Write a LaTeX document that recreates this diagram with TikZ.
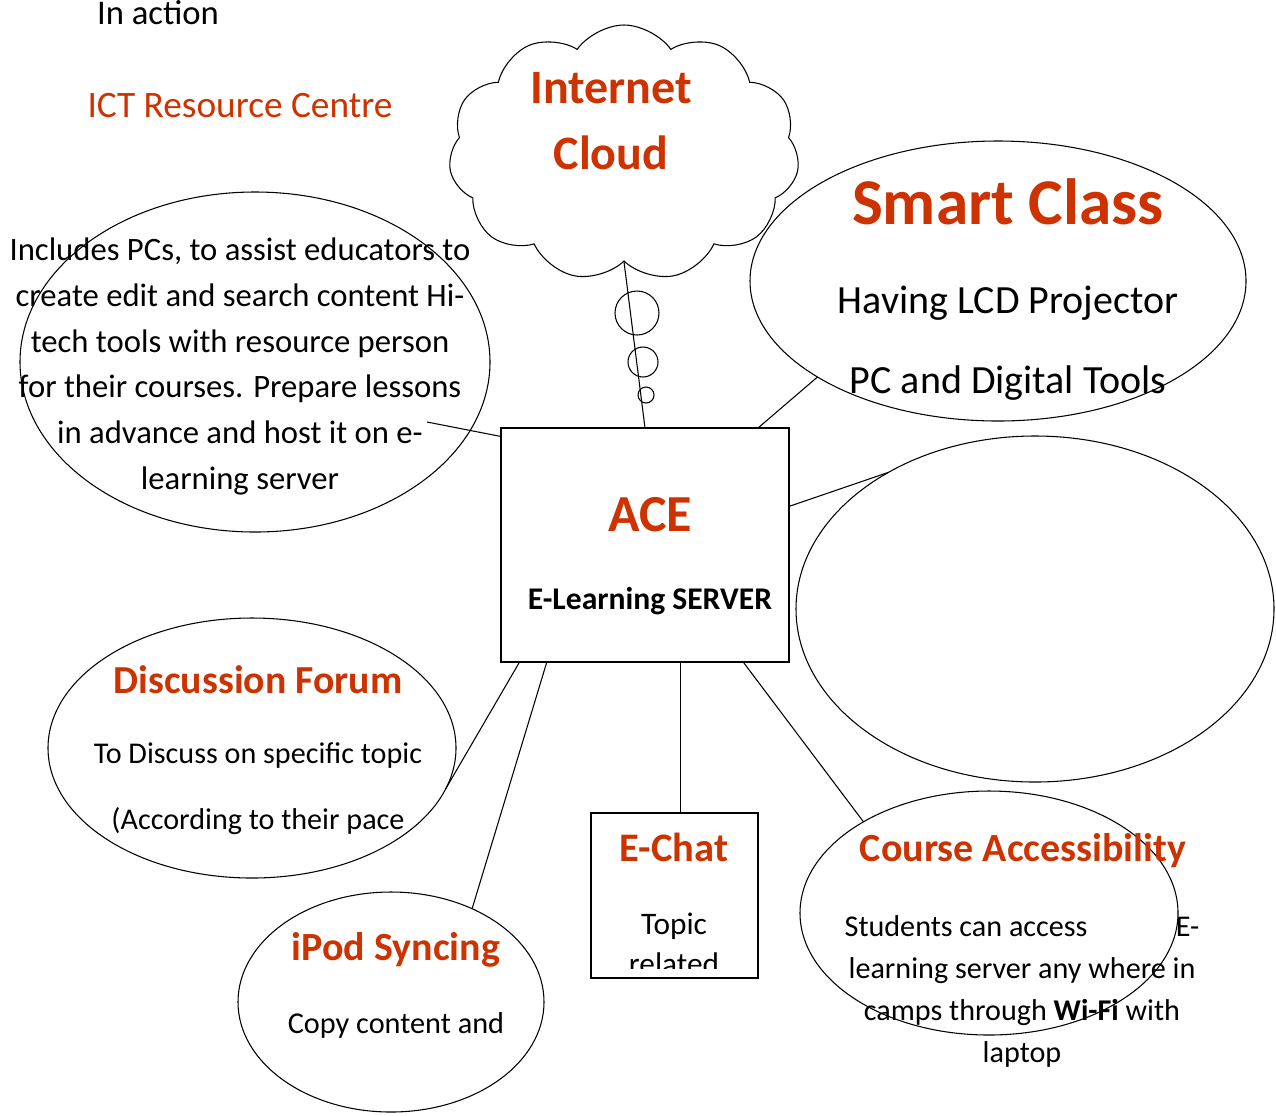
\documentclass[tikz,border=0pt]{standalone}
\usepackage{fontspec}
\setmainfont{Carlito}
\usetikzlibrary{shapes.geometric,shapes.symbols}
\definecolor{acered}{RGB}{204,51,0}
\newcommand\fsz[2]{\fontsize{#1}{#2}\selectfont}
\tikzset{
  bubble/.style={draw,ellipse,line width=0.8pt,inner sep=0pt,outer sep=0pt},
  panel/.style={draw,rectangle,line width=1.2pt,inner sep=0pt,outer sep=0pt},
  head/.style={text=acered,inner sep=0pt},
  body/.style={align=center,inner sep=0pt},
  link/.style={line width=0.8pt},
}
\begin{document}
\begin{tikzpicture}[x=0.75pt,y=-0.75pt]
\useasboundingbox (0,0) rectangle (1276,1115);
% titles top left
\node[font=\fsz{26}{30}] (inaction) at (158,13) {In action};
\node[head,font=\fsz{28}{32}] (ict) at (240,106) {ICT Resource Centre};
% cloud with thought bubbles
\node[cloud,draw,line width=0.8pt,cloud puffs=11,cloud puff arc=110,cloud ignores aspect,
  minimum width=263pt,minimum height=192pt] (cloud) at (624,153) {};
\node[head,body,font=\bfseries\fsz{36}{50}] (cloudtxt) at (611,121) {Internet\\Cloud};
\node[draw,circle,line width=0.8pt,minimum size=33pt,inner sep=0pt] (bub1) at (637,313) {};
\node[draw,circle,line width=0.8pt,minimum size=22.5pt,inner sep=0pt] (bub2) at (643,362) {};
\node[draw,circle,line width=0.8pt,minimum size=12pt,inner sep=0pt] (bub3) at (646,395) {};
% centre server
\node[panel,minimum width=216pt,minimum height=175.5pt] (ace) at (645,545) {};
\node[head,font=\bfseries\fsz{39}{45}] (acetxt) at (650,515) {ACE};
\node[font=\bfseries\fsz{23.7}{28}] (acesub) at (650,601) {E-Learning SERVER};
% resource centre
\node[bubble,minimum width=352.5pt,minimum height=255pt] (res) at (255,362) {};
\node[body,font=\fsz{24.5}{34.4}] (restxt) at (240,366.5) {Includes PCs, to assist educators to\\
  create edit and search content Hi-\\tech tools with resource person\\
  for their courses. Prepare lessons\\in advance and host it on e-\\learning server};
\coordinate (resend) at (427,422);
% smart class
\node[bubble,minimum width=372pt,minimum height=210pt] (smart) at (998,281) {};
\node[head,font=\bfseries\fsz{49}{56}] (smarttxt) at (1008,202) {Smart Class};
\node[body,font=\fsz{30}{60}] (smartsub) at (1008,343) {Having LCD Projector\\PC and Digital Tools};
% empty ellipse
\node[bubble,minimum width=358.5pt,minimum height=259.5pt] (blank) at (1035,609) {};
% discussion forum
\node[bubble,minimum width=306pt,minimum height=195pt] (forum) at (252,748) {};
\node[head,font=\bfseries\fsz{29.8}{34}] (forumtxt) at (258,680) {Discussion Forum};
\node[body,font=\fsz{22.6}{50}] (forumsub) at (258,788.5) {To Discuss on specific topic\\(According to their pace};
% ipod
\node[bubble,minimum width=229.5pt,minimum height=165pt] (ipod) at (391,1002) {};
\node[head,font=\bfseries\fsz{30}{34}] (ipodtxt) at (396,950) {iPod Syncing};
\node[font=\fsz{22.7}{26}] (ipodsub) at (396,1025) {Copy content and};
% e-chat
\node[panel,minimum width=125.25pt,minimum height=123.75pt] (echat) at (674.5,895.5) {};
\node[head,font=\bfseries\fsz{30.4}{34}] (echattxt) at (674,847) {E-Chat};
\begin{scope}
  \clip ([yshift=7pt]echat.south west) rectangle (echat.north east);
  \node[body,font=\fsz{23.5}{30}] (echatsub) at (674,944) {Topic\\related};
\end{scope}
% course accessibility
\node[bubble,minimum width=283.5pt,minimum height=183pt] (course) at (989,913) {};
\node[head,font=\bfseries\fsz{30}{34}] (coursetxt) at (1023,851) {Course Accessibility};
\node[body,font=\fsz{22.6}{31.7}] (coursesub) at (1022,991.5) {\makebox[266pt]{Students can access\hfill E-}\\
  learning server any where in\\camps through \textbf{Wi-Fi} with\\laptop};
% connectors
\draw[link] (cloud.south) -- (ace.north);
\draw[link] (ace.143) -- (resend);
\draw[link] (ace.46.3) -- (smart.208);
\draw[link] (ace.15.5) -- (blank.137.4);
\draw[link] (ace.223.1) -- (forum.-12);
\draw[link] (ace.230.6) -- (ipod.49.6);
\draw[link] (ace.-73.35) -- (ace.-73.35 |- echat.north);
\draw[link] (ace.-50.9) -- (course.144.8);
\end{tikzpicture}
\end{document}
